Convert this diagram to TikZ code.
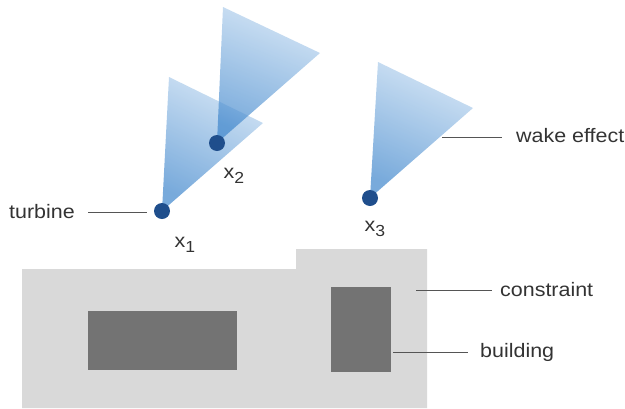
\documentclass[tikz,border=0pt]{standalone}
\usepackage{fontspec}
\setmainfont[FakeStretch=1.1]{Liberation Sans}
\usetikzlibrary{calc}
\definecolor{turb}{HTML}{1F4E8C}
\definecolor{wakeA}{HTML}{3F86CC}
\definecolor{wakeB}{HTML}{BFD8F0}
\definecolor{cons}{HTML}{D9D9D9}
\definecolor{bld}{HTML}{737373}
\definecolor{txt}{HTML}{333333}
\definecolor{lead}{HTML}{555555}
\tikzset{
  turbine/.style={circle,fill=turb,inner sep=0pt,minimum size=16pt},
  wake/.style={fill opacity=0.7,draw=none},
  lbl/.style={text=txt,font=\fontsize{19.5}{22}\selectfont,inner sep=0pt},
  leader/.style={draw=lead,line width=0.8pt},
}
\newcommand{\xsub}[1]{x\raisebox{-0.55ex}{\fontsize{16}{16}\selectfont #1}}
\begin{document}
\begin{tikzpicture}[x=1pt,y=-1pt]
\useasboundingbox (0,0) rectangle (625,408);
% constraint area
\fill[cons] (22,269) -- (296,269) -- (296,249) -- (427,249) -- (427,408) -- (22,408) -- cycle;
% buildings
\fill[bld] (88,311) rectangle (237,370);
\fill[bld] (331,287) rectangle (391,372);
% wakes
\shade[wake,top color=wakeB,bottom color=wakeA,shading angle=-26] (162,211) -- (169,77) -- (263,123) -- cycle;
\shade[wake,top color=wakeB,bottom color=wakeA,shading angle=-22] (217,143) -- (223,7) -- (320,53) -- cycle;
\shade[wake,top color=wakeB,bottom color=wakeA,shading angle=-24] (370,198) -- (378,62) -- (473,108) -- cycle;
% turbines
\node[turbine] (t1) at (162,211) {};
\node[turbine] (t2) at (217,143) {};
\node[turbine] (t3) at (370,198) {};
% subscript labels
\node[lbl] (x1) at (185,245) {\xsub{1}};
\node[lbl] (x2) at (234,176) {\xsub{2}};
\node[lbl] (x3) at (375,229) {\xsub{3}};
% text labels
\node[lbl,anchor=west] (lturb) at (9,212) {turbine};
\node[lbl,anchor=west] (lwake) at (516,136) {wake effect};
\node[lbl,anchor=west] (lcons) at (500,290) {constraint};
\node[lbl,anchor=west] (lbld) at (480,352) {building};
% leader lines
\coordinate (a1) at (88,212);
\coordinate (a2) at (147,212);
\draw[leader] (a1) -- (a2);
\coordinate (b1) at (442,137);
\coordinate (b2) at (502,137);
\draw[leader] (b1) -- (b2);
\coordinate (c1) at (416,290);
\coordinate (c2) at (492,290);
\draw[leader] (c1) -- (c2);
\coordinate (d1) at (393,352);
\coordinate (d2) at (468,352);
\draw[leader] (d1) -- (d2);
\end{tikzpicture}
\end{document}
